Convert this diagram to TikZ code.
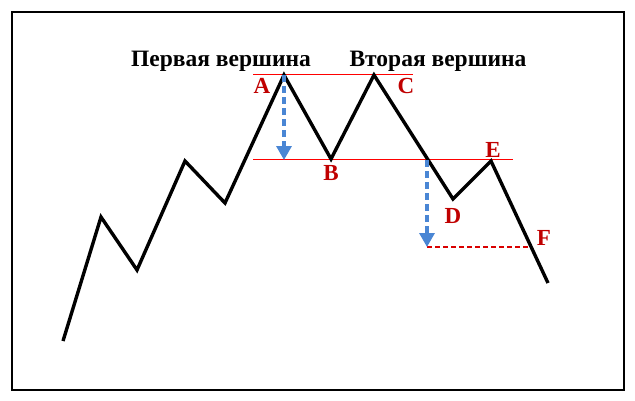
\documentclass[tikz,border=0pt]{standalone}
\usepackage{fontspec}
\setmainfont{Liberation Serif}
\usetikzlibrary{arrows.meta}
\definecolor{lblred}{HTML}{C00000}
\definecolor{arrblue}{HTML}{4A86D4}
\begin{document}
\begin{tikzpicture}[x=1pt,y=-1pt,
  price/.style={line width=3.4pt,line join=miter},
  level/.style={red,line width=1.1pt},
  target/.style={arrblue,line width=3.2pt,dash pattern=on 7pt off 4pt,-{Triangle[width=15pt,length=14pt]}},
  proj/.style={red!85!black,line width=2pt,dash pattern=on 5pt off 3pt},
  pt/.style={text=lblred,font=\fontsize{23}{25}\bfseries\selectfont,inner sep=0pt},
  ttl/.style={font=\fontsize{23.5}{26}\bfseries\selectfont,inner sep=0pt,anchor=base}]
\useasboundingbox (0,0) rectangle (635,400);
\fill[white] (0,0) rectangle (635,400);
\draw[line width=2.4pt] (12,12) rectangle (624,390);
% vertices
\coordinate (p0) at (63,341);
\coordinate (p1) at (101,217);
\coordinate (p2) at (137,270);
\coordinate (p3) at (185,161);
\coordinate (p4) at (225,203);
\coordinate (A) at (284,75);
\coordinate (B) at (331,159);
\coordinate (C) at (374,75);
\coordinate (D) at (453,199);
\coordinate (E) at (491,161);
\coordinate (end) at (548,283);
% levels
\coordinate (t1) at (253,74.5);
\coordinate (t2) at (413,74.5);
\coordinate (n1) at (253,159.5);
\coordinate (n2) at (513,159.5);
\coordinate (nb) at (427,160);
\coordinate (tg) at (427,247);
\coordinate (fx) at (530,247);
\coordinate (ab) at (284,160);
\draw[level] (t1) -- (t2);
\draw[level] (n1) -- (n2);
\draw[price] (p0) -- (p1) -- (p2) -- (p3) -- (p4) -- (A) -- (B) -- (C) -- (D) -- (E) -- (end);
\draw[proj] (tg) -- (fx);
\draw[target] (A) -- (ab);
\draw[target] (nb) -- (tg);
% labels
\node[pt] (lA) at (262,86) {A};
\node[pt] (lB) at (331,173) {B};
\node[pt] (lC) at (406,86) {C};
\node[pt] (lD) at (453,216) {D};
\node[pt] (lE) at (493,150) {E};
\node[pt] (lF) at (544,238) {F};
\node[ttl] (h1) at (221,66) {Первая вершина};
\node[ttl] (h2) at (438,66) {Вторая вершина};
\end{tikzpicture}
\end{document}
